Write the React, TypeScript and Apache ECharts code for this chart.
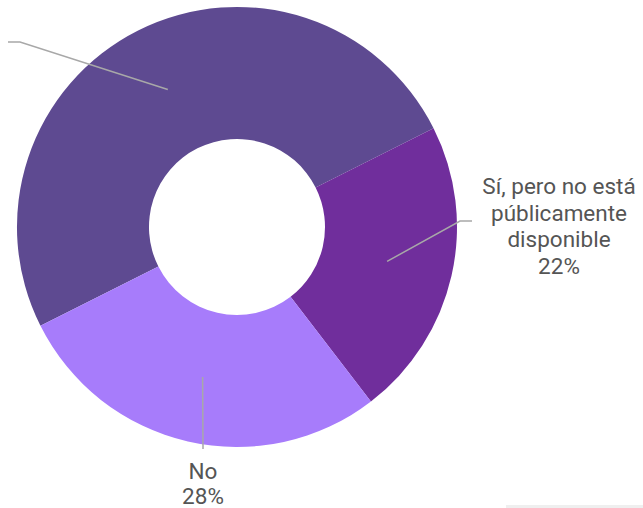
import React, { useEffect, useRef } from "react";
import * as echarts from "echarts";

const categories = [
  "Sí, y está públicamente disponible",
  "Sí, pero no está públicamente disponible",
  "No",
];
// visible label text (the first slice's label lies beyond the left edge in the reference)
const labelNames = [
  "",
  "Sí, pero no está\npúblicamente\ndisponible",
  "No",
];
const values = [50, 22, 28];
const colors = ["#5E4A91", "#702E9C", "#A77CFB"];

// label placement (layout only)
const labelAnchors = [
  { x: -2, y: 42, align: "right", verticalAlign: "middle", bend: [20, 42], end: [8, 42], lh: 26.5 },
  { x: 559, y: 173, align: "center", verticalAlign: "top", bend: [460, 221], end: [472, 221], lh: 26.5 },
  { x: 203, y: 458, align: "center", verticalAlign: "top", bend: [203, 449], end: [203, 449], lh: 25 },
];

export default function App() {
  const ref = useRef<HTMLDivElement>(null);
  useEffect(() => {
    if (!ref.current) return;
    const chart = echarts.init(ref.current, null, { renderer: "svg" });
    const data = categories.map((c, i) => ({
      name: c,
      value: values[i],
      itemStyle: { color: colors[i] },
    }));
    chart.setOption({
      animation: false,
      backgroundColor: "#ffffff",
      series: [
        {
          type: "pie",
          center: [237, 227],
          radius: [88, 220],
          startAngle: 206.7,
          clockwise: true,
          silent: true,
          label: { show: false },
          labelLine: { show: false },
          itemStyle: { borderWidth: 0 },
          data,
        },
        {
          type: "pie",
          center: [237, 227],
          radius: [0, 154],
          startAngle: 206.7,
          clockwise: true,
          silent: true,
          z: 3,
          itemStyle: { color: "rgba(0,0,0,0)", borderWidth: 0 },
          label: {
            show: true,
            position: "outside",
            formatter: (p: any) =>
              p.dataIndex === 0 ? " " : `${labelNames[p.dataIndex]}\n${Math.round(p.percent)}%`,
            fontFamily: "Roboto",
            fontWeight: 400,
            fontSize: 22.5,
            lineHeight: 26.5,
            color: "#555555",
          },
          labelLine: {
            show: true,
            length: 20,
            length2: 10,
            lineStyle: { color: "#a8a8a8", width: 1.5 },
          },
          labelLayout: (params: any) => {
            const a = labelAnchors[params.dataIndex];
            const p0 = params.labelLinePoints ? params.labelLinePoints[0] : a.bend;
            return {
              x: a.x,
              y: a.y,
              align: a.align,
              verticalAlign: a.verticalAlign,
              labelLinePoints: [p0, a.bend, a.end],
            };
          },
          data: categories.map((c, i) => ({
            name: c,
            value: values[i],
            label: { lineHeight: labelAnchors[i].lh },
          })),
        },
      ],
      graphic: [
        {
          type: "rect",
          shape: { x: 506, y: 505, width: 137, height: 3 },
          style: { fill: "#efefef" },
          silent: true,
        },
      ],
    });
    return () => chart.dispose();
  }, []);
  return (
    <div
      ref={ref}
      style={{ position: "fixed", left: 0, top: 0, width: 643, height: 508 }}
    />
  );
}
